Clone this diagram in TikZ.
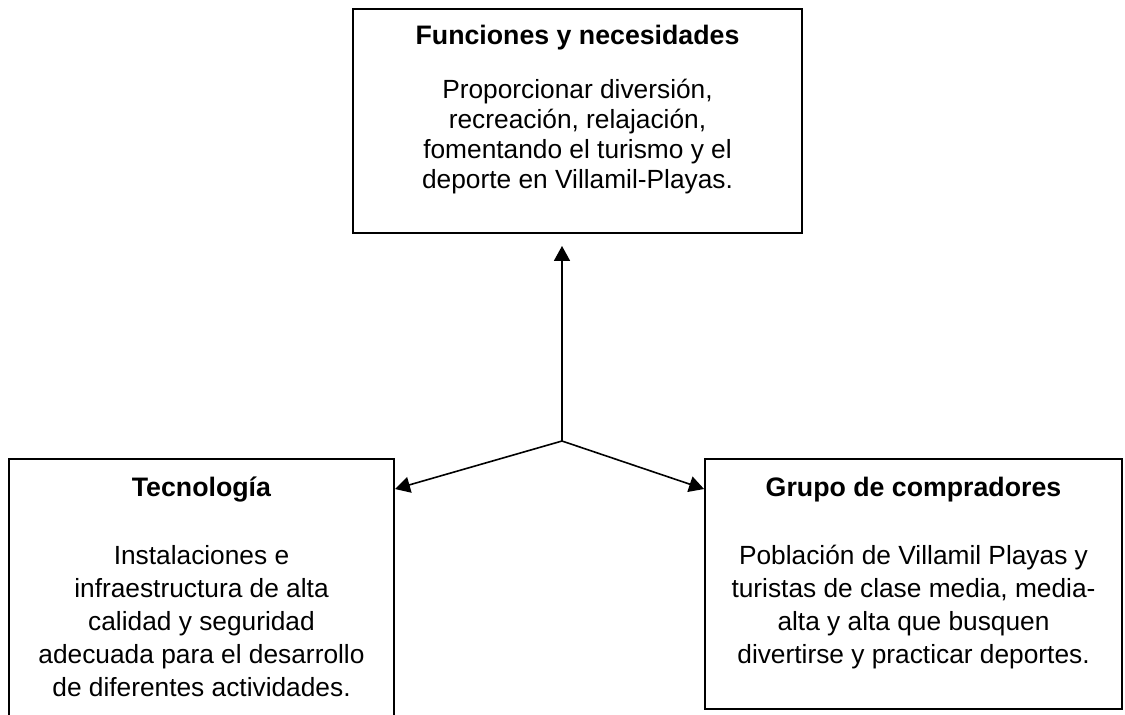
\documentclass[tikz,border=0pt]{standalone}
\usepackage{fontspec}
\setmainfont{Liberation Sans}
\usepackage{tikz}
\usetikzlibrary{arrows.meta}

% box contents: width, height, top space, gap, line skip, title, body
\newcommand{\boxtext}[7]{%
  \parbox[t][#2][t]{#1}{\centering\fontsize{12.3}{#5}\selectfont
    \vspace*{#3}{\fontsize{12.5}{14}\selectfont\textbf{#6}}\\[#4]#7}}

\begin{document}
\begin{tikzpicture}[x=0.4677pt, y=-0.4677pt,
    box/.style={draw, line width=0.9pt, inner sep=0pt, anchor=north},
    arrow/.style={-{Triangle[length=7pt,width=7.5pt]}, line width=0.75pt}]
	\useasboundingbox (0,0) rectangle (1125,714);
	
	% the three boxes
	\node[box] (funciones) at (577.5,8) {\boxtext{210pt}{104.8pt}{7.4pt}{11.6pt}{14}{Funciones y necesidades}{Proporcionar diversión,\\ recreación, relajación,\\ fomentando el turismo y el\\ deporte en Villamil-Playas.}};
	\node[box] (tecnologia) at (201.5,458) {\boxtext{180.1pt}{135pt}{8.6pt}{16.4pt}{15.4}{Tecnología}{Instalaciones e\\ infraestructura de alta\\ calidad y seguridad\\ adecuada para el desarrollo\\ de diferentes actividades.}};
	\node[box] (compradores) at (913.5,458) {\boxtext{195pt}{116.9pt}{8.6pt}{16.4pt}{15.4}{Grupo de compradores}{Población de Villamil Playas y\\ turistas de clase media, media-\\ alta y alta que busquen\\ divertirse y practicar deportes.}};
	
	% arrows from the meeting point
	\coordinate (hub) at (562,441);
	\coordinate (tecIn) at ([yshift=-14.5pt]tecnologia.north east);
	\coordinate (compIn) at ([yshift=-14.5pt]compradores.north west);
	\draw[arrow, shorten >=5.6pt] (hub) -- (hub |- funciones.south);
	\draw[arrow] (hub) -- (tecIn);
	\draw[arrow] (hub) -- (compIn);
\end{tikzpicture}
\end{document}
